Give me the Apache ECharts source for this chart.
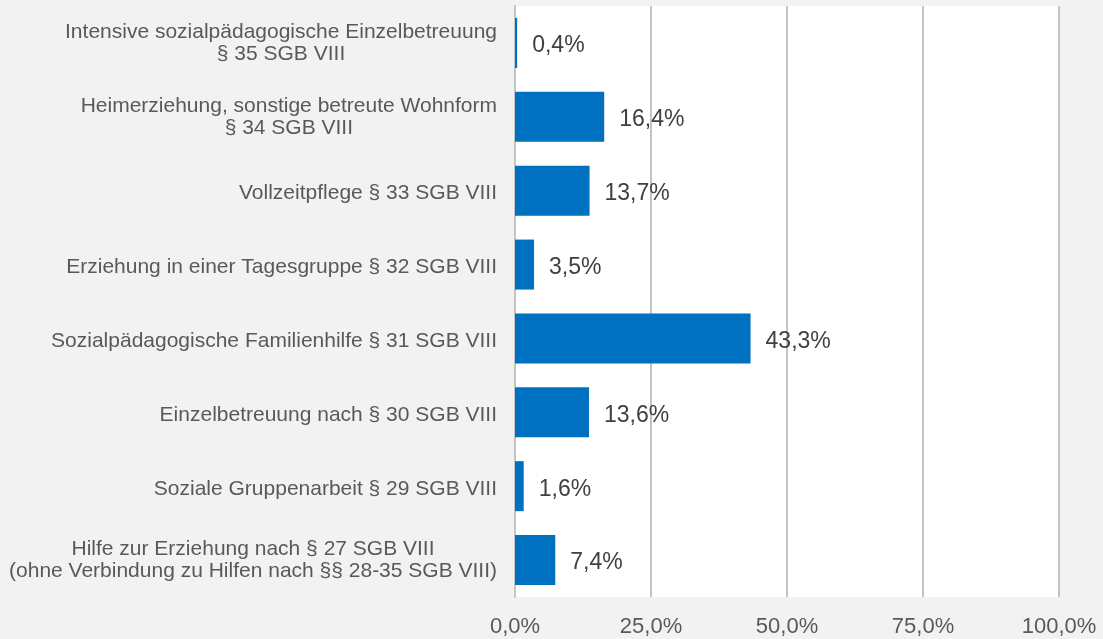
<!DOCTYPE html>
<html lang="de">
<head>
<meta charset="UTF-8">
<title>Hilfen zur Erziehung</title>
<script src="https://cdn.jsdelivr.net/npm/echarts@6/dist/echarts.min.js"></script>
<style>
  html, body { margin: 0; padding: 0; background: #f2f2f2; }
  #chart { width: 1103px; height: 639px; }
</style>
</head>
<body>
<div id="chart"></div>
<script>
// Kategorien von oben nach unten
var categories = [
  'Intensive sozialpädagogische Einzelbetreuung\n§ 35 SGB VIII',
  'Heimerziehung, sonstige betreute Wohnform\n§ 34 SGB VIII',
  'Vollzeitpflege § 33 SGB VIII',
  'Erziehung in einer Tagesgruppe § 32 SGB VIII',
  'Sozialpädagogische Familienhilfe § 31 SGB VIII',
  'Einzelbetreuung nach § 30 SGB VIII',
  'Soziale Gruppenarbeit § 29 SGB VIII',
  'Hilfe zur Erziehung nach § 27 SGB VIII\n(ohne Verbindung zu Hilfen nach §§ 28-35 SGB VIII)'
];
var shares = [0.4, 16.4, 13.7, 3.5, 43.3, 13.6, 1.6, 7.4];
var ticks = [0, 25, 50, 75, 100];

function pct(v) {
  return v.toFixed(1).replace('.', ',') + '%';
}

var chart = echarts.init(document.getElementById('chart'));
chart.setOption({
  backgroundColor: '#f2f2f2',
  textStyle: { fontFamily: 'Liberation Sans, Arial, sans-serif' },
  grid: {
    left: 515, right: 44, top: 6, bottom: 42,
    show: true, backgroundColor: '#ffffff', borderWidth: 0
  },
  xAxis: {
    type: 'value',
    min: ticks[0],
    max: ticks[ticks.length - 1],
    interval: 25,
    axisLine: { show: false },
    axisTick: { show: false },
    splitLine: { show: true, lineStyle: { color: '#c4c4c4', width: 2 } },
    axisLabel: {
      margin: 19,
      fontSize: 22,
      color: '#595959',
      formatter: function (v) { return pct(v); }
    }
  },
  yAxis: {
    type: 'category',
    inverse: true,
    data: categories,
    axisLine: { show: true, lineStyle: { color: '#c4c4c4', width: 2 } },
    axisTick: { show: false },
    axisLabel: {
      margin: 18,
      color: '#595959',
      fontSize: 21,
      lineHeight: 22,
      formatter: function (v) {
        var lines = v.split('\n');
        if (lines.length === 1) return '{s|' + v + '}';
        return lines.map(function (s) { return '{c|' + s + '}'; }).join('\n');
      },
      rich: {
        c: { align: 'center', fontSize: 21, lineHeight: 22, color: '#595959' },
        s: { fontSize: 21, lineHeight: 22, color: '#595959', padding: [6, 0, 0, 0] }
      }
    }
  },
  series: [{
    type: 'bar',
    data: shares,
    barWidth: 50,
    itemStyle: { color: '#0070c0' },
    label: {
      show: true,
      position: 'right',
      distance: 15,
      offset: [0, 3],
      fontSize: 23,
      color: '#404040',
      formatter: function (p) { return pct(p.value); }
    },
    animation: false
  }]
});
</script>
</body>
</html>
